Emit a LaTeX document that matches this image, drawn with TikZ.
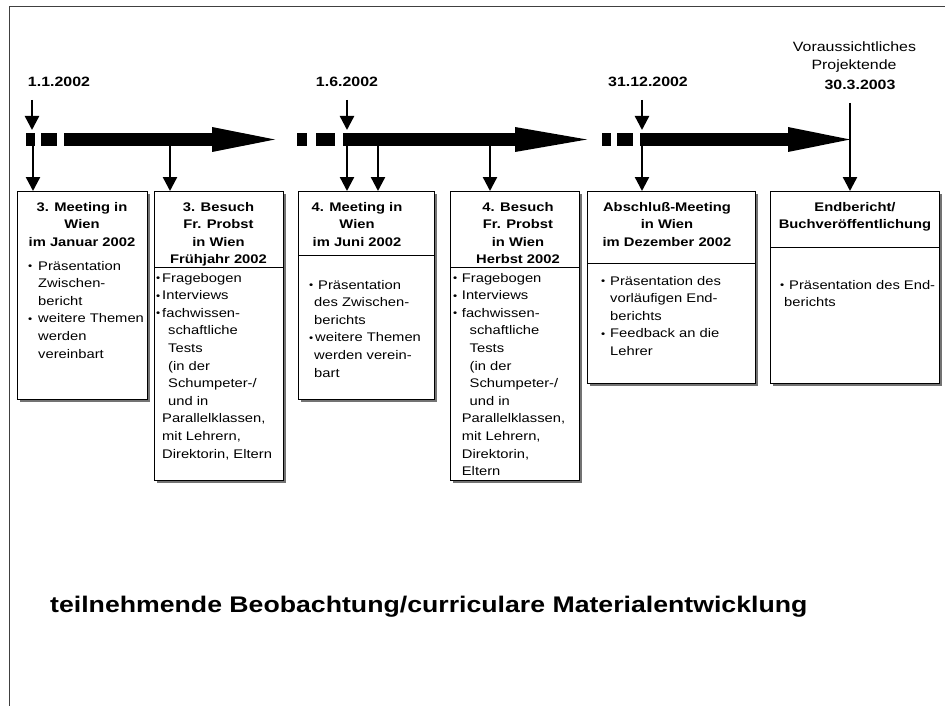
\documentclass[tikz,border=0pt]{standalone}
\usepackage{fontspec}
\setmainfont{Liberation Sans}[FakeStretch=1.18]
\usetikzlibrary{arrows.meta,shadows}
\newcommand\bxf{\fontsize{12.5}{17.6}\selectfont}
\newcommand\bi[1]{\makebox[#1pt][l]{\raisebox{0.4pt}{\scalebox{0.8}{\textbullet}}}}
\newcommand\ci[1]{\hspace*{#1pt}}
\newcommand\tlines[2]{\bxf\begin{tabular}[t]{@{}#1@{}}#2\end{tabular}}
\tikzset{
  frame/.style={draw=black!75, line width=1.5pt},
  bx/.style={draw=black, line width=0.9pt, fill=white, inner sep=0pt, outer sep=0pt, anchor=north west,
    drop shadow={shadow xshift=2.7pt, shadow yshift=-2.7pt, fill=black!55, opacity=1}},
  divider/.style={draw=black, line width=0.8pt},
  arr/.style={line width=2.4pt, -{Triangle[length=14pt,width=14pt]}},
  tl/.style={fill=black},
  title/.style={anchor=base, inner sep=0pt, font=\bfseries},
  body/.style={anchor=base west, inner sep=0pt},
  date/.style={anchor=base, inner sep=0pt, font=\fontsize{13.5}{16}\selectfont\bfseries},
  note/.style={anchor=base, inner sep=0pt, font=\fontsize{13.5}{16}\selectfont},
  big/.style={anchor=base west, inner sep=0pt, font=\fontsize{22.6}{26}\selectfont\bfseries},
}
\begin{document}
\begin{tikzpicture}[x=1pt,y=-1pt]
\useasboundingbox (0,0) rectangle (945,706);
% frame
\draw[frame] (9.5,706) -- (9.5,6.5) -- (945,6.5);

% boxes
\node[bx, minimum width=130pt, minimum height=208pt] (b1) at (17,191) {};
\node[bx, minimum width=129pt, minimum height=289pt] (b2) at (154,191) {};
\node[bx, minimum width=136pt, minimum height=208pt] (b3) at (298,191) {};
\node[bx, minimum width=129pt, minimum height=289pt] (b4) at (450,191) {};
\node[bx, minimum width=168pt, minimum height=192pt] (b5) at (587,191) {};
\node[bx, minimum width=169pt, minimum height=192pt] (b6) at (770,191) {};

% dividers
\draw[divider] (b2.west |- 0,267) -- (b2.east |- 0,267);
\draw[divider] (b3.west |- 0,255) -- (b3.east |- 0,255);
\draw[divider] (b4.west |- 0,267) -- (b4.east |- 0,267);
\draw[divider] (b5.west |- 0,263) -- (b5.east |- 0,263);
\draw[divider] (b6.west |- 0,247) -- (b6.east |- 0,247);

% titles
\node[title] (h1) at (82,211) {\tlines{c}{3. Meeting in\\Wien\\im Januar 2002}};
\node[title] (h2) at (218.5,211) {\tlines{c}{3. Besuch\\Fr. Probst\\in Wien\\Frühjahr 2002}};
\node[title] (h3) at (357,211) {\tlines{c}{4. Meeting in\\Wien\\im Juni 2002}};
\node[title] (h4) at (518,211) {\tlines{c}{4. Besuch\\Fr. Probst\\in Wien\\Herbst 2002}};
\node[title] (h5) at (667,211) {\tlines{c}{Abschluß-Meeting\\in Wien\\im Dezember 2002}};
\node[title] (h6) at (855,211) {\tlines{c}{Endbericht/\\Buchveröffentlichung}};

% bodies
\node[body] (t1) at (28,270) {\tlines{l}{\bi{10}Präsentation\\\ci{10}Zwischen-\\\ci{10}bericht\\\bi{10}weitere Themen\\\ci{10}werden\\\ci{10}vereinbart}};
\node[body] (t2) at (156,282) {\tlines{l}{\bi{6}Fragebogen\\\bi{6}Interviews\\\bi{6}fachwissen-\\\ci{12}schaftliche\\\ci{12}Tests\\\ci{12}(in der\\\ci{12}Schumpeter-/\\\ci{12}und in\\\ci{6}Parallelklassen,\\\ci{6}mit Lehrern,\\\ci{6}Direktorin, Eltern}};
\node[body] (t3) at (309,289) {\tlines{l}{\bi{9}Präsentation\\\ci{5}des Zwischen-\\\ci{5}berichts\\\bi{6}weitere Themen\\\ci{5}werden verein-\\\ci{5}bart}};
\node[body] (t4) at (453,282) {\tlines{l}{\bi{8.7}Fragebogen\\\bi{8.7}Interviews\\\bi{8.7}fachwissen-\\\ci{16.5}schaftliche\\\ci{16.5}Tests\\\ci{16.5}(in der\\\ci{16.5}Schumpeter-/\\\ci{16.5}und in\\\ci{8.7}Parallelklassen,\\\ci{8.7}mit Lehrern,\\\ci{8.7}Direktorin,\\\ci{8.7}Eltern}};
\node[body] (t5) at (601,285) {\tlines{l}{\bi{9}Präsentation des\\\ci{9}vorläufigen End-\\\ci{9}berichts\\\bi{9}Feedback an die\\\ci{9}Lehrer}};
\node[body] (t6) at (780,289) {\tlines{l}{\bi{9}Präsentation des End-\\\ci{4}berichts}};

% timeline arrows
\fill[tl] (26,133) rectangle (35,146);
\fill[tl] (41,133) rectangle (57,146);
\fill[tl] (64,133) rectangle (212,146);
\fill[tl] (212,127) -- (275,139.5) -- (212,152) -- cycle;
\fill[tl] (297,133) rectangle (307,146);
\fill[tl] (316,133) rectangle (335,146);
\fill[tl] (343,133) rectangle (515,146);
\fill[tl] (515,127) -- (587,139.5) -- (515,152) -- cycle;
\fill[tl] (602,133) rectangle (611,146);
\fill[tl] (617,133) rectangle (633,146);
\fill[tl] (640,133) rectangle (788,146);
\fill[tl] (788,127) -- (850,139.5) -- (788,152) -- cycle;

% labels
\node[date] (l1) at (59,87) {1.1.2002};
\node[date] (l2) at (347,87) {1.6.2002};
\node[date] (l3) at (648,87) {31.12.2002};
\node[note] (l4a) at (854.5,52) {Voraussichtliches};
\node[note] (l4b) at (854,70) {Projektende};
\node[date] (l4) at (860,90) {30.3.2003};

% coordinates
\coordinate (u1) at (32,100); \coordinate (v1) at (32,130);
\coordinate (u2) at (347,100); \coordinate (v2) at (347,130);
\coordinate (u3) at (642,100); \coordinate (v3) at (642,130);
\coordinate (s1) at (33,146);
\coordinate (s2) at (170,146);
\coordinate (s3) at (347,146);
\coordinate (s4) at (378,146);
\coordinate (s5) at (490,146);
\coordinate (s6) at (642,146);
\coordinate (s7) at (850,103);

% vertical arrows
\draw[arr] (u1) -- (v1);
\draw[arr] (u2) -- (v2);
\draw[arr] (u3) -- (v3);
\draw[arr] (s1) -- (s1 |- b1.north);
\draw[arr] (s2) -- (s2 |- b2.north);
\draw[arr] (s3) -- (s3 |- b3.north);
\draw[arr] (s4) -- (s4 |- b3.north);
\draw[arr] (s5) -- (s5 |- b4.north);
\draw[arr] (s6) -- (s6 |- b5.north);
\draw[arr] (s7) -- (s7 |- b6.north);

% bottom text
\node[big] (bt) at (50,612) {teilnehmende Beobachtung/curriculare Materialentwicklung};
\end{tikzpicture}
\end{document}
